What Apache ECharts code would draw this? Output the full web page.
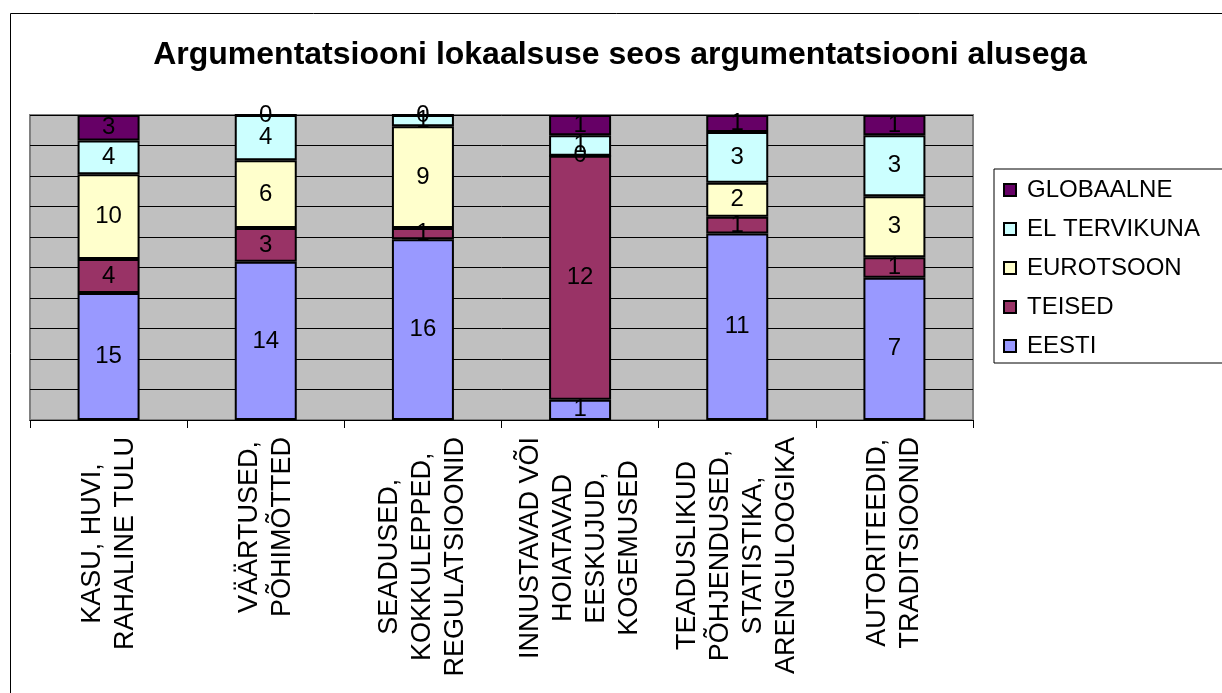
<!DOCTYPE html>
<html>
<head>
<meta charset="utf-8">
<script src="https://cdn.jsdelivr.net/npm/echarts@6/dist/echarts.min.js"></script>
<style>
	html, body { margin: 0; padding: 0; background: #fff; }
	#chart { width: 1222px; height: 693px; }
</style>
</head>
<body>
<div id="chart"></div>
<script>
// kategooriad (rea vahetusega nagu originaalis)
const categories = [
	'KASU, HUVI,\nRAHALINE TULU',
	'VÄÄRTUSED,\nPÕHIMÕTTED',
	'SEADUSED,\nKOKKULEPPED,\nREGULATSIOONID',
	'INNUSTAVAD VÕI\nHOIATAVAD\nEESKUJUD,\nKOGEMUSED',
	'TEADUSLIKUD\nPÕHJENDUSED,\nSTATISTIKA,\nARENGULOOGIKA',
	'AUTORITEEDID,\nTRADITSIOONID'
];

// seeriate väärtused
const eesti = [15, 14, 16, 1, 11, 7];
const teised = [4, 3, 1, 12, 1, 1];
const eurotsoon = [10, 6, 9, 0, 2, 3];
const elTervikuna = [4, 4, 1, 1, 3, 3];
const globaalne = [3, 0, 0, 1, 1, 1];

const seriesNames = ['EESTI', 'TEISED', 'EUROTSOON', 'EL TERVIKUNA', 'GLOBAALNE'];
const seriesValues = [eesti, teised, eurotsoon, elTervikuna, globaalne];
const seriesColors = ['#9999FF', '#993366', '#FFFFCC', '#CCFFFF', '#660066'];

// 100% virn: iga kategooria summa
const totals = categories.map((c, i) => seriesValues.reduce((s, arr) => s + arr[i], 0));

const chart = echarts.init(document.getElementById('chart'));

const series = seriesNames.map((name, k) => ({
	name: name,
	type: 'bar',
	stack: 'total',
	barWidth: 62,
	data: seriesValues[k].map((v, i) => v / totals[i] * 100),
	itemStyle: { color: seriesColors[k], borderColor: '#000', borderWidth: 2 },
	label: {
		show: true,
		position: 'inside',
		color: '#000',
		fontSize: 24,
		fontFamily: 'Liberation Sans, Arial, sans-serif',
		formatter: p => String(seriesValues[k][p.dataIndex])
	},
	emphasis: { disabled: true }
}));

chart.setOption({
	animation: false,
	backgroundColor: '#fff',
	title: {
		text: 'Argumentatsiooni lokaalsuse seos argumentatsiooni alusega',
		left: 620,
		top: 39,
		textAlign: 'center',
		padding: 0,
		textStyle: {
			fontSize: 32,
			fontWeight: 'bold',
			color: '#000',
			fontFamily: 'Liberation Sans, Arial, sans-serif'
		}
	},
	legend: {
		orient: 'vertical',
		left: 994,
		top: 169,
		padding: [9, 40, 5, 9],
		itemWidth: 12,
		itemHeight: 12,
		itemGap: 15,
		icon: 'rect',
		borderColor: '#000',
		borderWidth: 1,
		data: seriesNames.slice().reverse(),
		textStyle: {
			fontSize: 24,
			lineHeight: 24,
			color: '#000',
			padding: [0, 0, 0, 6],
			fontFamily: 'Liberation Sans, Arial, sans-serif'
		}
	},
	grid: {
		left: 30,
		top: 115,
		right: 249,
		bottom: 273,
		show: true,
		backgroundColor: '#C0C0C0',
		borderColor: '#808080',
		borderWidth: 2
	},
	xAxis: {
		type: 'category',
		data: categories,
		axisLine: { lineStyle: { color: '#000', width: 1 } },
		axisTick: { show: true, length: 8, interval: 0, lineStyle: { color: '#000' } },
		axisLabel: {
			interval: 0,
			rotate: 90,
			margin: 17,
			color: '#000',
			fontSize: 27,
			lineHeight: 33,
			fontFamily: 'Liberation Sans, Arial, sans-serif',
			formatter: v => v.split('\n').map(s => '{c|' + s + '}').join('\n'),
			rich: {
				c: {
					align: 'center',
					fontSize: 27,
					lineHeight: 33,
					color: '#000',
					fontFamily: 'Liberation Sans, Arial, sans-serif'
				}
			}
		}
	},
	yAxis: {
		type: 'value',
		min: 0,
		max: 100,
		interval: 10,
		axisLine: { show: false },
		axisTick: { show: false },
		axisLabel: { show: false },
		splitLine: { show: true, lineStyle: { color: '#000', width: 1 } }
	},
	graphic: [
		{
			type: 'rect',
			left: 8,
			top: 11,
			z: -10,
			shape: { width: 1400, height: 900 },
			style: { fill: 'none', stroke: '#000', lineWidth: 1 }
		}
	],
	series: series
});
</script>
</body>
</html>
